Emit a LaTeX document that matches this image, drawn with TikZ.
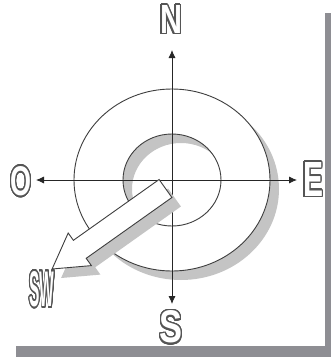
\documentclass[tikz,border=0pt]{standalone}
\usepackage{fontspec}
\setmainfont{Liberation Sans}
\usepackage{graphicx}
\usepackage{contour}
\usetikzlibrary{arrows.meta}
\definecolor{frameGray}{RGB}{142,142,147}
\definecolor{shadeGray}{RGB}{196,196,196}
\definecolor{inkGray}{RGB}{62,62,62}
\definecolor{letterGray}{RGB}{85,85,85}
\contourlength{1.6pt}
\contournumber{24}
\newcommand{\hollow}[3]{%
\resizebox{#1}{#2}{\fontsize{40}{40}\selectfont\bfseries\contour{letterGray}{\textcolor{white}{#3}}}%
}
\tikzset{
  ring/.style={draw=inkGray, line width=0.9pt},
  axis/.style={{Latex[length=8pt,width=7pt]}-{Latex[length=8pt,width=7pt]}, line width=0.8pt, black!85},
  cardinal/.style={inner sep=0pt, outer sep=0pt},
  pointer/.style={draw=inkGray, fill=white, line width=0.9pt, line join=miter},
}

\begin{document}
\begin{tikzpicture}[x=1pt, y=-1pt]
  \useasboundingbox (0,0) rectangle (331,357);
  % page with offset shade
  \fill[frameGray] (16,13) rectangle (331,357);
  \fill[white] (0,0) rectangle (325,346);

  % ring and its shade
  \fill[shadeGray, even odd rule] (181,189) ellipse [x radius=98, y radius=91]
    (181,189) ellipse [x radius=49, y radius=46];
  \fill[white, even odd rule] (172,180) ellipse [x radius=98, y radius=91]
    (172,180) ellipse [x radius=49, y radius=46];
  \draw[ring] (172,180) ellipse [x radius=98, y radius=91];
  \draw[ring] (172,180) ellipse [x radius=49, y radius=46];

  % labels
  \node[cardinal] (N) at (171,20) {\hollow{22pt}{28pt}{N}};
  \node[cardinal] (O) at (21,182) {\hollow{21pt}{29pt}{O}};
  \node[cardinal] (E) at (313,180) {\hollow{20pt}{34pt}{E}};
  \node[cardinal] (S) at (171,328) {\hollow{23pt}{32pt}{S}};
  \node[cardinal] (SW) at (42,290) {\hollow{25pt}{35pt}{SW}};

  \coordinate (tipN) at (172,50);
  \coordinate (tipS) at (172,304);
  \coordinate (tipO) at (36,180);
  \coordinate (tipE) at (297,180);
  \draw[axis] (tipO) -- (tipE);
  \draw[axis] (tipN) -- (tipS);

  % south-west pointer
  \fill[shadeGray, shift={(9,9)}] (159.1,179.5) -- (73.4,240.3) -- (68.2,233.0) -- (52.1,269.0)
    -- (91.4,265.6) -- (86.2,258.3) -- (171.9,197.5) -- cycle;
  \draw[pointer] (159.1,179.5) -- (73.4,240.3) -- (68.2,233.0) -- (52.1,269.0)
    -- (91.4,265.6) -- (86.2,258.3) -- (171.9,197.5) -- cycle;
\end{tikzpicture}
\end{document}
